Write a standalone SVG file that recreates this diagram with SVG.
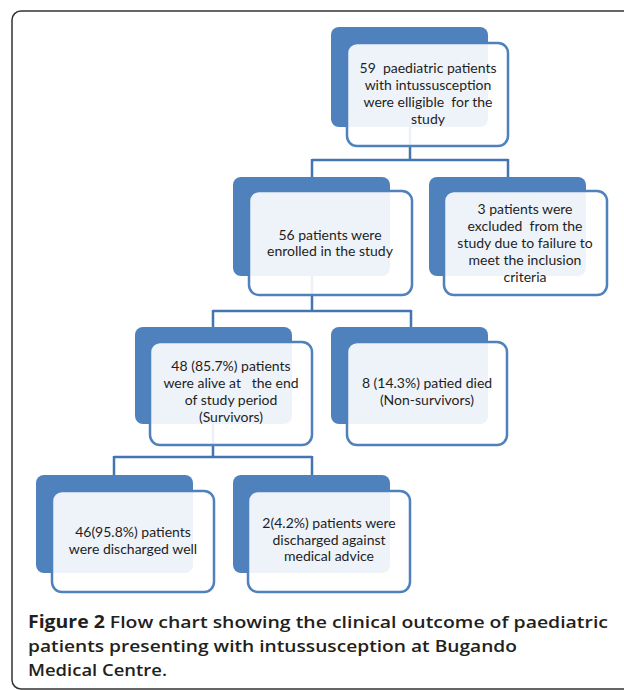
<svg xmlns="http://www.w3.org/2000/svg" width="624" height="690" viewBox="0 0 624 690">
<style>
.back{fill:#4f81bd}
.front{fill:#ffffff;fill-opacity:0.9;stroke:#4f81bd;stroke-width:2.5}
.t{font-family:Lato,"Open Sans","Liberation Sans",sans-serif;font-size:14px;fill:#1e1e1e;text-anchor:middle;white-space:pre}
.conn{fill:none;stroke:#4375b0;stroke-width:2.5}
.cap{font-family:"Open Sans","Noto Sans","Liberation Sans",sans-serif;font-size:17px;fill:#231f20;font-weight:600}
</style>
<rect x="12" y="11" width="640" height="678" rx="9" fill="#ffffff" stroke="#333333" stroke-width="1.5"/>
<g id="connectors">
<path class="conn" d="M410,127 V160 M312,160 H508 M312,159 V177 M508,159 V177"/>
<path class="conn" d="M312,276 V311 M213,311 H411 M213,310 V327 M411,310 V327"/>
<path class="conn" d="M213,424 V457 M114,457 H312 M114,456 V475 M312,456 V475"/>
</g>
<g id="n1">
<rect class="back" x="331" y="27" width="157" height="100" rx="8"/>
<rect class="front" x="347" y="43" width="161" height="103" rx="10"/>
<text class="t"><tspan x="428" y="73">59  paediatric patients</tspan><tspan x="428" y="90">with intussusception</tspan><tspan x="428" y="107">were elligible  for the</tspan><tspan x="428" y="124">study</tspan></text>
</g>
<g id="n2">
<rect class="back" x="233" y="177" width="157" height="99" rx="8"/>
<rect class="front" x="249" y="191" width="163" height="104" rx="10"/>
<text class="t"><tspan x="330" y="240">56 patients were</tspan><tspan x="330" y="256">enrolled in the study</tspan></text>
</g>
<g id="n3">
<rect class="back" x="429" y="177" width="157" height="99" rx="8"/>
<rect class="front" x="444" y="191" width="163" height="104" rx="10"/>
<text class="t"><tspan x="525" y="214">3 patients were</tspan><tspan x="525" y="231">excluded  from the</tspan><tspan x="525" y="248">study due to failure to</tspan><tspan x="525" y="265">meet the inclusion</tspan><tspan x="525" y="282">criteria</tspan></text>
</g>
<g id="n4">
<rect class="back" x="135" y="327" width="157" height="97" rx="8"/>
<rect class="front" x="150" y="342" width="162" height="103" rx="10"/>
<text class="t"><tspan x="231" y="371">48 (85.7%) patients</tspan><tspan x="231" y="388">were alive at   the end</tspan><tspan x="231" y="405">of study period</tspan><tspan x="231" y="422">(Survivors)</tspan></text>
</g>
<g id="n5">
<rect class="back" x="331" y="327" width="157" height="97" rx="8"/>
<rect class="front" x="347" y="342" width="160" height="103" rx="10"/>
<text class="t"><tspan x="427" y="388">8 (14.3%) patied died</tspan><tspan x="427" y="405">(Non-survivors)</tspan></text>
</g>
<g id="n6">
<rect class="back" x="36" y="475" width="157" height="98" rx="8"/>
<rect class="front" x="52" y="491" width="162" height="101" rx="10"/>
<text class="t"><tspan x="133" y="537">46(95.8%) patients</tspan><tspan x="133" y="554">were discharged well</tspan></text>
</g>
<g id="n7">
<rect class="back" x="233" y="475" width="157" height="98" rx="8"/>
<rect class="front" x="248" y="491" width="162" height="101" rx="10"/>
<text class="t"><tspan x="329" y="528">2(4.2%) patients were</tspan><tspan x="329" y="545">discharged against</tspan><tspan x="329" y="561">medical advice</tspan></text>
</g>
<g id="caption">
<text class="cap" x="28" y="628" textLength="580" lengthAdjust="spacingAndGlyphs"><tspan font-weight="700">Figure 2</tspan> Flow chart showing the clinical outcome of paediatric</text>
<text class="cap" x="28" y="652" textLength="489" lengthAdjust="spacingAndGlyphs">patients presenting with intussusception at Bugando</text>
<text class="cap" x="28" y="676" textLength="139" lengthAdjust="spacingAndGlyphs">Medical Centre.</text>
</g>
</svg>
